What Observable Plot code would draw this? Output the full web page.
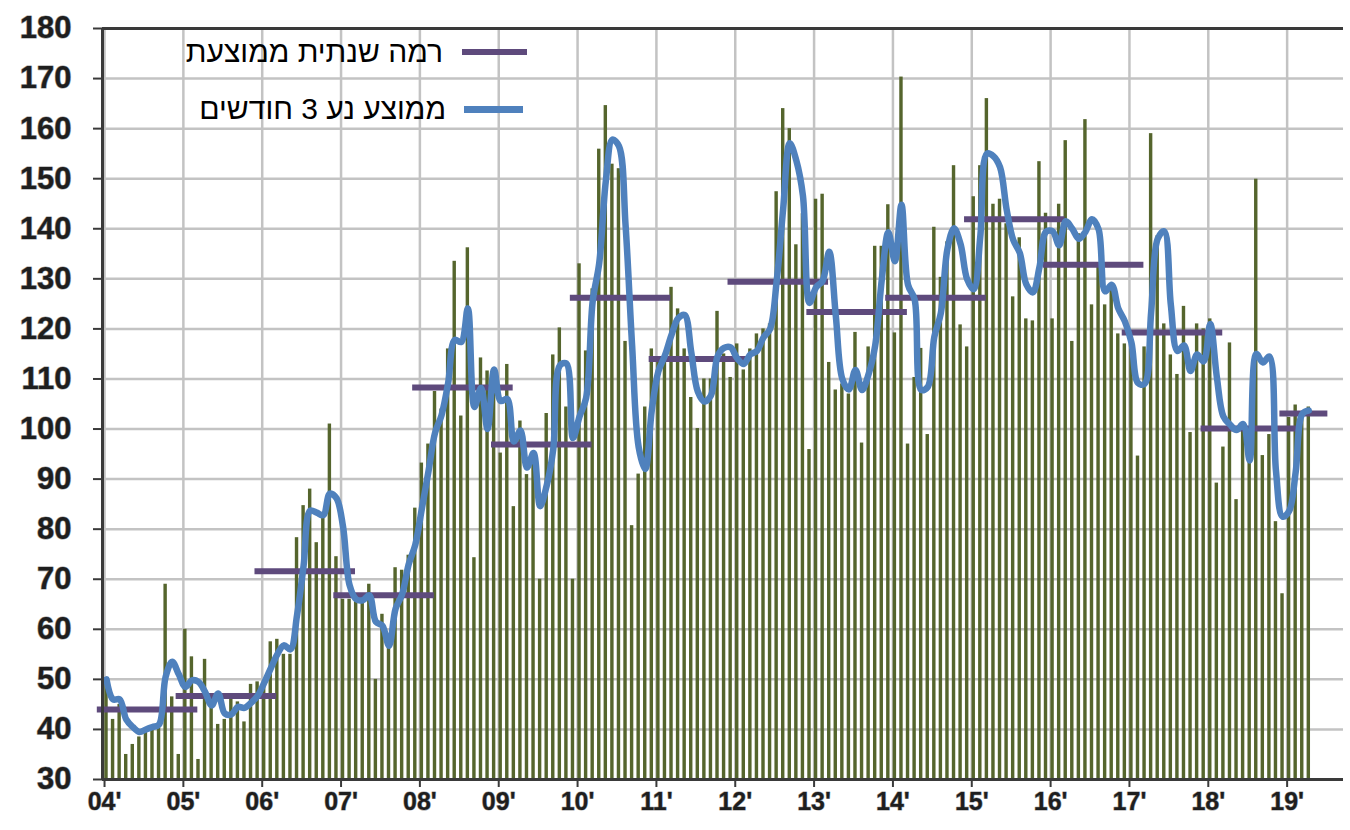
<!DOCTYPE html>
<html>
<head>
<meta charset="utf-8">
<script src="https://cdn.jsdelivr.net/npm/d3@7"></script>
<script src="https://cdn.jsdelivr.net/npm/@observablehq/plot@0.6"></script>
<style>
  body { margin: 0; background: #ffffff; }
  #wrap { position: relative; width: 1350px; height: 830px; font-family: "Liberation Sans", Arial, sans-serif; }
  .legend-row { position: absolute; direction: rtl; font-size: 30px; color: #000; white-space: nowrap; }
  .swatch { position: absolute; }
</style>
</head>
<body>
<div id="wrap"></div>
<script>
// ---- data ----
const startYear = 2004;
const yearLabels = ["04'", "05'", "06'", "07'", "08'", "09'", "10'", "11'", "12'", "13'", "14'", "15'", "16'", "17'", "18'", "19'"];

// monthly values, Jan 2004 .. Apr 2019
const monthlyValues = [
  49, 42, 45, 35, 37, 38.5, 39.5, 40.5, 41, 69, 46.5, 35,
  60, 54.5, 34, 54, 46.5, 41, 42, 46, 45.5, 41.5, 49, 49.5,
  49.5, 57.5, 58, 55, 55, 78.3, 84.7, 88, 77.3, 83, 101, 74.5,
  66, 66, 66, 65.5, 69, 50, 63, 57, 72.3, 71.8, 74.8, 84.2,
  93.2, 97, 107.5, 104, 116, 133.5, 102.6, 136.2, 74.3, 114.2, 111.6, 110,
  95.2, 112.9, 84.5, 101.6, 90.9, 93, 70, 103.1, 114.8, 120.2, 104.4, 70,
  133, 115.6, 128, 155.9, 164.6, 152.9, 152, 117.5, 80.7, 91, 104.4, 116,
  114, 114, 128.3, 124, 116, 106.3, 100.1, 110, 110, 123.5, 115, 110.3,
  117, 111.8, 116, 119, 120, 121, 147.4, 164, 160, 136.8, 143, 95.9,
  145.9, 146.9, 113.3, 107.8, 109, 107, 119.3, 97.2, 116.4, 136.5, 136.5, 144.8,
  119.2, 170.3, 97, 110.3, 116.1, 98.9, 140.3, 130.3, 137.4, 152.6, 120.8, 116.4,
  146.4, 152.6, 166, 144.9, 145.9, 141, 126.4, 138.2, 122, 121.6, 153.4, 143.1,
  122, 144.9, 157.6, 117.5, 139, 161.8, 124.8, 133, 124.8, 128.6, 119, 117,
  116, 94.6, 116.4, 159, 138.6, 121, 114.8, 110.9, 124.5, 99.3, 121, 120,
  122, 89.2, 96.4, 117.2, 85.9, 100, 95.2, 149.9, 94.7, 98.9, 81.5, 67.1,
  102.3, 104.8, 102, 104.4
];

// 3-month moving average line, Jan 2004 .. Apr 2019
const movingAverage = [
  50, 46, 46, 42, 40.5, 39.5, 40, 40.5, 41, 50.5, 53.5, 51,
  48.5, 49.8, 49.5, 47.5, 44.8, 47.2, 43.2, 43, 44.5, 44.3, 45.3, 46.7,
  49.3, 52.2, 55, 56.8, 56, 62.8, 72.7, 83.7, 83.3, 82.8, 87.1, 86.2,
  80.5, 68.8, 66, 65.8, 66.8, 61.5, 60.7, 56.7, 64.1, 67, 73, 76.9,
  84.1, 91.5, 99.2, 102.8, 109.2, 117.8, 117.4, 124.1, 104.4, 108.2, 100, 111.9,
  105.6, 106, 97.5, 99.7, 92.3, 95.2, 84.6, 88.7, 96, 112.7, 113.1, 98.2,
  102.5, 106.2, 125.5, 133.2, 149.5, 157.8, 156.5, 140.8, 116.7, 96.4, 92, 103.8,
  111.5, 114.7, 118.8, 122.1, 122.8, 115.4, 107.5, 105.5, 106.7, 114.5, 116.2, 116.3,
  114.1, 113, 114.9, 115.6, 118.3, 120, 129.5, 144.1, 157.1, 153.6, 146.6, 125.2,
  128.3, 129.6, 135.4, 122.7, 110, 107.9, 111.8, 107.8, 111, 116.7, 129.8, 139.3,
  133.5, 144.8, 128.8, 125.9, 107.8, 108.4, 118.4, 123.2, 136, 140.1, 136.9, 129.9,
  127.9, 138.5, 155, 154.5, 152.3, 143.9, 137.8, 135.2, 128.9, 127.3, 132.3, 139.4,
  139.5, 136.7, 141.5, 140, 138, 139.4, 141.9, 139.9, 127.5, 128.8, 124.1, 121.5,
  117.3, 109.2, 109, 123.3, 138, 139.5, 124.8, 115.6, 116.7, 111.6, 114.9, 113.5,
  121, 110.4, 102.5, 100.9, 99.8, 101, 93.7, 115, 113.3, 114.5, 91.7, 82.5,
  83.6, 91.4, 103, 103.7
];

// average annual level
const annualAverage = [44, 46.7, 71.6, 66.8, 108.3, 96.9, 126.2, 114, 129.4, 123.4, 126.2, 141.9, 132.8, 119.3, 100.1, 103.1];

// ---- derived tables ----
const months = monthlyValues.map((v, i) => ({i, v, ma: movingAverage[i]}));
const lastIndex = monthlyValues.length - 1;
const years = annualAverage.map((v, k) => ({
  v,
  x1: k * 12 - 1.4,
  x2: Math.min(k * 12 + 11, lastIndex) + 2.9
}));
const tickPos = yearLabels.map((_, k) => k * 12 - 0.3);

const font = '"Liberation Sans", Arial, sans-serif';

const chart = Plot.plot({
  width: 1350,
  height: 830,
  marginLeft: 102,
  marginRight: 7,
  marginTop: 28,
  marginBottom: 51,
  style: {fontFamily: font, background: "#ffffff", overflow: "visible"},
  x: {type: "linear", domain: [-0.609, 188.28]},
  y: {domain: [30, 180]},
  marks: [
    Plot.gridX(tickPos, {stroke: "#c3c3c3", strokeOpacity: 1, strokeWidth: 2.5}),
    Plot.gridY(d3.range(40, 180, 10), {stroke: "#c3c3c3", strokeOpacity: 1, strokeWidth: 2.5}),
    Plot.rectY(months, {x1: d => d.i - 0.26, x2: d => d.i + 0.26, y1: 30, y2: "v", fill: "#55652d"}),
    Plot.ruleY(years, {y: "v", x1: "x1", x2: "x2", stroke: "#5e4a7c", strokeWidth: 6}),
    Plot.line(months, {x: "i", y: "ma", stroke: "#4f81bd", strokeWidth: 6.5, curve: "catmull-rom", strokeLinejoin: "round"}),
    Plot.ruleY([180], {stroke: "#3a3a3a", strokeWidth: 3}),
    Plot.ruleY([30], {stroke: "#3a3a3a", strokeWidth: 3}),
    Plot.ruleX([-0.609], {stroke: "#3a3a3a", strokeWidth: 3}),
    Plot.axisY(d3.range(30, 190, 10), {
      tickSize: 9, tickPadding: 22, stroke: "#3a3a3a", strokeWidth: 2,
      fontSize: 31, fontWeight: "bold", fill: "#1e1e1e",
      textStroke: "#9a9a9a", textStrokeWidth: 1.2,
      label: null
    }),
    Plot.axisX(tickPos, {
      tickSize: 8, tickPadding: 5, stroke: "#3a3a3a", strokeWidth: 2,
      fontSize: 25, fontWeight: "bold", fill: "#1e1e1e",
      textStroke: "#9a9a9a", textStrokeWidth: 1,
      tickFormat: d => yearLabels[Math.round((d + 0.3) / 12)],
      label: null
    })
  ]
});

const wrap = document.getElementById("wrap");
wrap.appendChild(chart);

// legend (inside the plot area, top left)
const legendItems = [
  {label: "רמה שנתית ממוצעת", color: "#5e4a7c", textRight: 443, y: 52, sx: 462, sw: 65, th: 6},
  {label: "ממוצע נע 3 חודשים", color: "#4f81bd", textRight: 446, y: 109, sx: 464, sw: 59, th: 7}
];
for (const it of legendItems) {
  const t = document.createElement("div");
  t.className = "legend-row";
  t.textContent = it.label;
  t.style.right = (1350 - it.textRight) + "px";
  t.style.top = (it.y - 17) + "px";
  t.style.lineHeight = "34px";
  wrap.appendChild(t);
  const s = document.createElement("div");
  s.className = "swatch";
  s.style.left = it.sx + "px";
  s.style.width = it.sw + "px";
  s.style.top = (it.y - it.th / 2) + "px";
  s.style.height = it.th + "px";
  s.style.background = it.color;
  wrap.appendChild(s);
}
</script>
</body>
</html>
